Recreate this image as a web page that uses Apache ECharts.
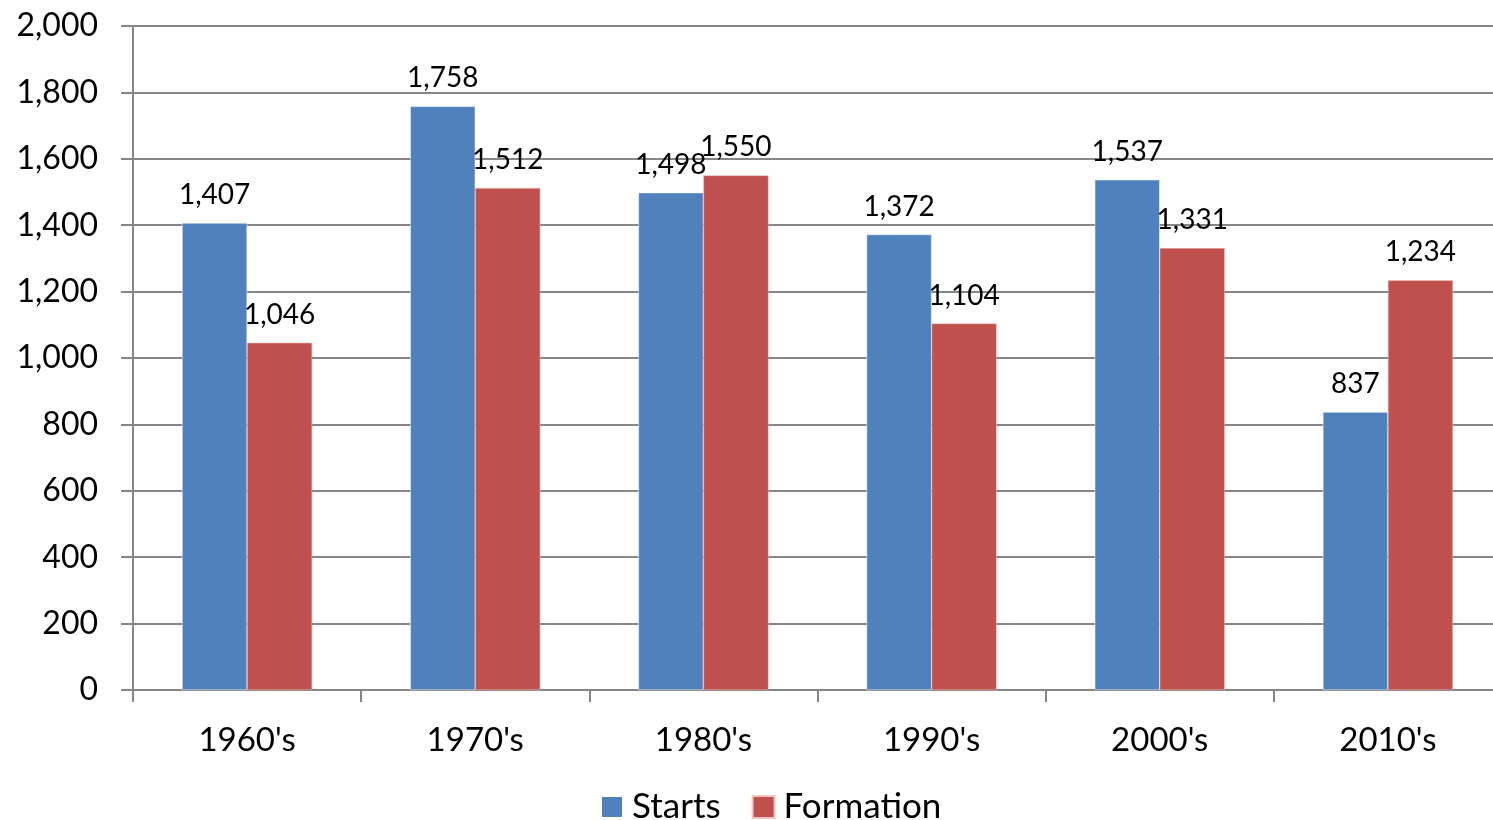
<!DOCTYPE html>
<html>
<head>
<meta charset="utf-8">
<script src="https://cdn.jsdelivr.net/npm/echarts@6/dist/echarts.min.js"></script>
<style>
html,body{margin:0;padding:0;background:#fff;overflow:hidden;}
#c{width:1502px;height:820px;}
</style>
</head>
<body>
<div id="c"></div>
<script>
const categories = ["1960's", "1970's", "1980's", "1990's", "2000's", "2010's"];
const starts = [1407, 1758, 1498, 1372, 1537, 837];
const formation = [1046, 1512, 1550, 1104, 1331, 1234];
const yTicks = { min: 0, max: 2000, interval: 200 };

const fmt = v => Number(v).toLocaleString('en-US');
const FONT = 'Lato';
const GRAY = '#868686';

const chart = echarts.init(document.getElementById('c'));
chart.setOption({
  animation: false,
  textStyle: { fontFamily: FONT },
  grid: { left: 133, right: 0, top: 26, bottom: 130 },
  legend: {
    top: 789,
    left: 600,
    padding: 0,
    itemWidth: 22,
    itemHeight: 22,
    itemGap: 31,
    icon: 'rect',
    textStyle: { fontFamily: FONT, fontSize: 35, lineHeight: 36, color: '#000', padding: [0, 0, 0, 4] },
    data: ['Starts', 'Formation']
  },
  xAxis: {
    type: 'category',
    data: categories,
    axisLine: { lineStyle: { color: GRAY, width: 2 } },
    axisTick: { show: true, length: 12, lineStyle: { color: GRAY, width: 2 } },
    axisLabel: { fontFamily: FONT, fontSize: 33, color: '#000', margin: 34 }
  },
  yAxis: {
    type: 'value',
    min: yTicks.min,
    max: yTicks.max,
    interval: yTicks.interval,
    axisLine: { show: true, lineStyle: { color: GRAY, width: 2 } },
    axisTick: { show: true, length: 12, lineStyle: { color: GRAY, width: 2 } },
    splitLine: { lineStyle: { color: GRAY, width: 2 } },
    axisLabel: { fontFamily: FONT, fontSize: 32, color: '#000', margin: 35, formatter: fmt }
  },
  series: [
    {
      name: 'Starts',
      type: 'bar',
      data: starts,
      barGap: '0%',
      barCategoryGap: '43%',
      itemStyle: { color: '#4F81BD', borderColor: '#ffffff', borderWidth: 0.5 },
      label: { show: true, position: 'top', distance: 14, fontFamily: FONT, fontSize: 28, color: '#000', formatter: p => fmt(p.value) }
    },
    {
      name: 'Formation',
      type: 'bar',
      data: formation,
      itemStyle: { color: '#C0504D', borderColor: '#f2c4c3', borderWidth: 0.5 },
      label: { show: true, position: 'top', distance: 14, fontFamily: FONT, fontSize: 28, color: '#000', formatter: p => fmt(p.value) }
    }
  ]
});
</script>
</body>
</html>
